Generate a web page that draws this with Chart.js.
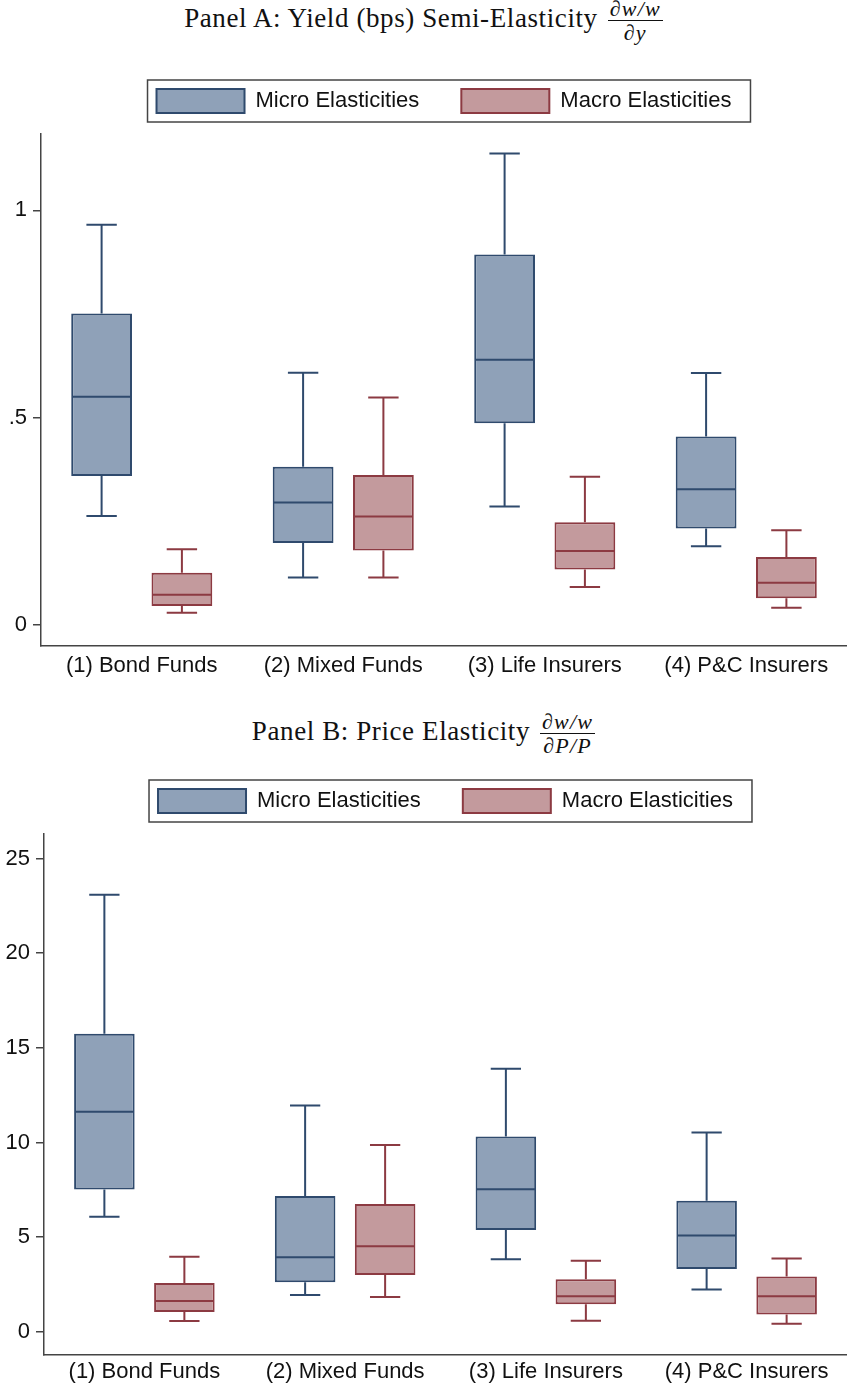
<!DOCTYPE html>
<html>
<head>
<meta charset="utf-8">
<script src="https://cdn.jsdelivr.net/npm/chart.js@4.4.0/dist/chart.umd.min.js"></script>
<style>
  html, body { margin: 0; padding: 0; background: #fff; }
  body { width: 847px; height: 1390px; position: relative; overflow: hidden; }
  .title {
    position: absolute; left: 0; width: 847px; line-height: 40px;
    text-align: center; white-space: nowrap; color: #111;
    font-family: "Liberation Serif", "Times New Roman", serif; font-size: 27px; letter-spacing: 0.6px;
  }
  .frac {
    display: inline-block; vertical-align: middle; text-align: center;
    font-style: italic; font-size: 22px; line-height: 0.9; margin-left: 10px; letter-spacing: 1.2px;
  }
  .frac span { display: block; padding: 0 2px; }
  .frac .num { border-bottom: 1px solid #111; padding-bottom: 2px; }
  .frac .den { padding-top: 2px; }
  .panel { position: absolute; left: 0; }
</style>
</head>
<body>

<div class="title" style="top:-2px">Panel A: Yield (bps) Semi-Elasticity<span class="frac"><span class="num">∂w/w</span><span class="den">∂y</span></span></div>
<canvas class="panel" id="panelA" width="847" height="653" style="top:47px"></canvas>

<div class="title" style="top:711px">Panel B: Price Elasticity<span class="frac"><span class="num">∂w/w</span><span class="den">∂P/P</span></span></div>
<canvas class="panel" id="panelB" width="847" height="643" style="top:747px"></canvas>

<script>
const categories = ['(1) Bond Funds', '(2) Mixed Funds', '(3) Life Insurers', '(4) P&C Insurers'];
const seriesNames = ['Micro Elasticities', 'Macro Elasticities'];

// Panel A: yield (bps) semi-elasticity
const microLowA  = [0.262, 0.114, 0.285, 0.189];
const microQ1A   = [0.359, 0.197, 0.486, 0.232];
const microMedA  = [0.550, 0.295, 0.639, 0.327];
const microQ3A   = [0.751, 0.381, 0.893, 0.454];
const microHighA = [0.965, 0.608, 1.137, 0.607];

const macroLowA  = [0.029, 0.114, 0.091, 0.041];
const macroQ1A   = [0.045, 0.179, 0.133, 0.064];
const macroMedA  = [0.072, 0.261, 0.178, 0.101];
const macroQ3A   = [0.125, 0.361, 0.247, 0.163];
const macroHighA = [0.182, 0.548, 0.357, 0.228];

const yTicksA = [0, 0.5, 1];
const yTickLabelsA = ['0', '.5', '1'];

// Panel B: price elasticity
const microLowB  = [6.08, 1.94, 3.83, 2.23];
const microQ1B   = [7.51, 2.62, 5.38, 3.32];
const microMedB  = [11.62, 3.94, 7.53, 5.09];
const microQ3B   = [15.75, 7.17, 10.32, 6.92];
const microHighB = [23.09, 11.96, 13.90, 10.53];

const macroLowB  = [0.57, 1.83, 0.58, 0.42];
const macroQ1B   = [1.04, 3.00, 1.45, 0.91];
const macroMedB  = [1.62, 4.51, 1.87, 1.87];
const macroQ3B   = [2.57, 6.75, 2.77, 2.92];
const macroHighB = [3.96, 9.87, 3.75, 3.87];

const yTicksB = [0, 5, 10, 15, 20, 25];
const yTickLabelsB = ['0', '5', '10', '15', '20', '25'];

const microFill = '#8fa1b8', microLine = '#2f4a6d';
const macroFill = '#c39a9d', macroLine = '#8c3a42';
const axisColor = '#444';

Chart.defaults.font.family = '"Liberation Sans", Arial, sans-serif';
Chart.defaults.color = '#111';

// median line + whiskers on top of the floating q1..q3 bars
const whiskers = {
    id: 'whiskers',
    afterDatasetsDraw(chart) {
        const ctx = chart.ctx
        const y = chart.scales.y
        chart.data.datasets.forEach((ds, i) => {
            chart.getDatasetMeta(i).data.forEach((bar, j) => {
                const half = bar.width / 2
                const cap = bar.width / 4
                const yLo = y.getPixelForValue(ds.lo[j])
                const yQ1 = y.getPixelForValue(ds.data[j][0])
                const yMed = y.getPixelForValue(ds.med[j])
                const yQ3 = y.getPixelForValue(ds.data[j][1])
                const yHi = y.getPixelForValue(ds.hi[j])
                ctx.save()
                ctx.strokeStyle = ds.borderColor
                ctx.lineWidth = 2
                ctx.beginPath()
                ctx.moveTo(bar.x - half + 1, yMed); ctx.lineTo(bar.x + half - 1, yMed)
                ctx.moveTo(bar.x, yQ3); ctx.lineTo(bar.x, yHi)
                ctx.moveTo(bar.x - cap, yHi); ctx.lineTo(bar.x + cap, yHi)
                ctx.moveTo(bar.x, yQ1); ctx.lineTo(bar.x, yLo)
                ctx.moveTo(bar.x - cap, yLo); ctx.lineTo(bar.x + cap, yLo)
                ctx.stroke()
                ctx.restore()
            })
        })
    }
}

// stata style frame around the legend
const legendFrame = {
    id: 'legendFrame',
    afterDraw(chart) {
        const boxes = chart.legend && chart.legend.legendHitBoxes
        if (!boxes || !boxes.length) return
        const first = boxes[0]
        const last = boxes[boxes.length - 1]
        const left = first.left - 9
        const right = last.left + last.width + 19
        const ctx = chart.ctx
        ctx.save()
        ctx.strokeStyle = axisColor
        ctx.lineWidth = 1.5
        ctx.strokeRect(left, first.top - 9, right - left, first.height + 18)
        ctx.restore()
    }
}

function boxDataset(label, lo, q1, med, q3, hi, fill, line) {
    return {
        label: label,
        xAxisID: 'x',
        yAxisID: 'y',
        data: q1.map((v, i) => [v, q3[i]]),
        lo: lo,
        med: med,
        hi: hi,
        backgroundColor: fill,
        borderColor: line,
        borderWidth: 2,
        borderSkipped: false,
        categoryPercentage: 0.797,
        barPercentage: 0.757,
    }
}

function makePanel(id, datasets, yMin, yMax, tickValues, tickLabels, yAxisWidth, xAxisHeight, labelPad) {
    const ctx = document.getElementById(id).getContext('2d')
    return new Chart(ctx, {
        type: 'bar',
        data: { labels: categories, datasets: datasets },
        plugins: [whiskers, legendFrame],
        options: {
            responsive: false,
            animation: false,
            layout: { padding: 0 },
            plugins: {
                legend: {
                    position: 'top',
                    fullSize: false,
                    labels: {
                        boxWidth: 88,
                        boxHeight: 24,
                        padding: 42,
                        color: '#111',
                        font: { size: 22 },
                    },
                },
                tooltip: { enabled: false },
            },
            scales: {
                x: {
                    type: 'category',
                    offset: true,
                    afterFit(s) { s.height = xAxisHeight },
                    grid: { display: false, drawTicks: false },
                    border: { display: true, color: axisColor, width: 1.5 },
                    ticks: { padding: labelPad, maxRotation: 0, autoSkip: false, color: '#111', font: { size: 22 } },
                },
                gap: {
                    axis: 'x',
                    type: 'category',
                    position: 'top',
                    afterFit(s) { s.height = 11 },
                    grid: { display: false, drawTicks: false },
                    border: { display: false },
                    ticks: { display: false },
                },
                y: {
                    min: yMin,
                    max: yMax,
                    afterFit(s) { s.width = yAxisWidth },
                    afterBuildTicks(s) { s.ticks = tickValues.map(v => ({ value: v })) },
                    grid: { drawOnChartArea: false, drawTicks: true, tickLength: 8, color: axisColor, lineWidth: 1.5 },
                    border: { display: true, color: axisColor, width: 1.5 },
                    ticks: {
                        padding: 6,
                        color: '#111',
                        font: { size: 22 },
                        callback: (v) => tickLabels[tickValues.indexOf(v)],
                    },
                },
            },
        },
    })
}

makePanel('panelA', [
    boxDataset(seriesNames[0], microLowA, microQ1A, microMedA, microQ3A, microHighA, microFill, microLine),
    boxDataset(seriesNames[1], macroLowA, macroQ1A, macroMedA, macroQ3A, macroHighA, macroFill, macroLine),
], -0.0515, 1.184, yTicksA, yTickLabelsA, 41, 54, 7)

makePanel('panelB', [
    boxDataset(seriesNames[0], microLowB, microQ1B, microMedB, microQ3B, microHighB, microFill, microLine),
    boxDataset(seriesNames[1], macroLowB, macroQ1B, macroMedB, macroQ3B, macroHighB, macroFill, macroLine),
], -1.23, 26.3, yTicksB, yTickLabelsB, 44, 35, 4)
</script>
</body>
</html>
